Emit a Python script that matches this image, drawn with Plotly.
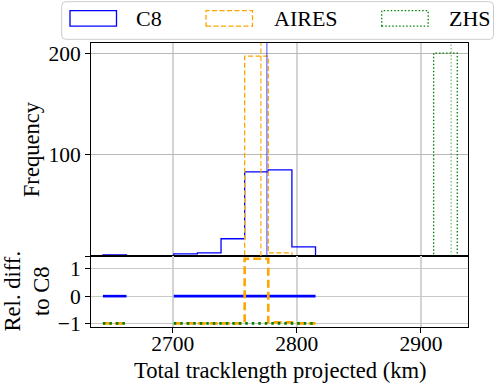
import plotly.graph_objects as go
from plotly.subplots import make_subplots

# ---------------- data ----------------
series_names = ["C8", "AIRES", "ZHS"]
bin_edges = [2643.6, 2662.65, 2681.7, 2700.75, 2719.8, 2738.85, 2757.9, 2776.95,
             2796.0, 2815.05, 2834.1, 2853.15, 2872.2, 2891.25, 2910.3, 2929.35]
counts_c8 = [1, 0, 0, 2, 3, 17, 83, 85, 9, 0, 0, 0, 0, 0, 0]
counts_aires = [0, 0, 0, 0, 0, 0, 197, 3, 0, 0, 0, 0, 0, 0, 0]
counts_zhs = [0, 0, 0, 0, 0, 0, 0, 0, 0, 0, 0, 0, 0, 0, 200]
ref_lines = [2775.8, 2771.0, 2924.4]  # vertical markers (C8, AIRES, ZHS)
x_ticks = [2700, 2800, 2900]
freq_ticks = [0, 100, 200]
freq_ticktext = ["", "100", "200"]
rel_ticks = [-1, 0, 1]
rel_ticktext = ["\u22121", "0", "1"]

# ---------------- styles ----------------
FONT = "Liberation Serif, Times New Roman, serif"
TICK_SIZE = 21.5
LABEL_SIZE = 22.6
colors = ["#0000ff", "#ffa500", "#008000"]
vcolors = ["rgba(0,0,255,0.55)", "rgba(255,165,0,0.85)", "rgba(0,128,0,0.5)"]
dash_top = ["solid", "5px,2.5px", "1.5px,2px"]
dash_bot = ["solid", "8px,4px", "2.5px,4px"]

W, H = 495, 387
ML, MR, MT, MB = 91, 27, 43, 60
PW, PH = W - ML - MR, H - MT - MB


def px2x(px):
    return (px - ML) / PW


def py2y(py):
    return (H - MB - py) / PH


def hist_path(edges, counts):
    xs, ys = [edges[0]], [0]
    for i, c in enumerate(counts):
        xs += [edges[i], edges[i + 1]]
        ys += [c, c]
    xs.append(edges[-1])
    ys.append(0)
    return xs, ys


def stairs(edges, vals):
    xs, ys = [], []
    for i, v in enumerate(vals):
        xs += [edges[i], edges[i + 1]]
        ys += [v, v]
    return xs, ys


all_counts = [counts_c8, counts_aires, counts_zhs]
rel = []
for cnt in all_counts:
    rel.append([(o - c) / c if c > 0 else None for o, c in zip(cnt, counts_c8)])

fig = make_subplots(rows=2, cols=1, shared_xaxes=True, vertical_spacing=0,
                    row_heights=[0.75, 0.25])

for k in range(3):
    xs, ys = hist_path(bin_edges, all_counts[k])
    fig.add_trace(go.Scatter(x=xs, y=ys, mode="lines", name=series_names[k],
                             line=dict(color=colors[k], width=1.3, dash=dash_top[k]),
                             showlegend=False, hoverinfo="skip"), row=1, col=1)
    fig.add_shape(type="line", xref="x", yref="y domain", x0=ref_lines[k], x1=ref_lines[k],
                  y0=0, y1=1, line=dict(color=vcolors[k], width=1.3, dash=dash_top[k]))

for k in range(3):
    xs, ys = stairs(bin_edges, rel[k])
    fig.add_trace(go.Scatter(x=xs, y=ys, mode="lines", name=series_names[k],
                             line=dict(color=colors[k], width=2.6, dash=dash_bot[k]),
                             showlegend=False, hoverinfo="skip", connectgaps=False),
                  row=2, col=1)

axis_common = dict(showline=True, linecolor="black", linewidth=1, mirror=True,
                   zeroline=False, tickfont=dict(family=FONT, size=TICK_SIZE, color="black"),
                   tickcolor="black", ticklen=5, tickwidth=1)

fig.update_xaxes(range=[2634, 2938], tickvals=x_ticks, showgrid=True,
                 gridcolor="#d3d3d3", gridwidth=1.5, **axis_common)
fig.update_xaxes(ticks="", showticklabels=False, row=1, col=1)
fig.update_xaxes(ticks="outside", showticklabels=True, ticklabelstandoff=-8, row=2, col=1)
fig.update_yaxes(range=[0, 210], tickvals=freq_ticks, ticktext=freq_ticktext,
                 ticks="outside", showgrid=True, gridcolor="#b8b8b8", gridwidth=1,
                 row=1, col=1, **axis_common)
fig.update_yaxes(range=[-1.134, 1.475], tickvals=rel_ticks, ticktext=rel_ticktext,
                 ticks="outside", showgrid=True, gridcolor="#c8c8c8", gridwidth=1,
                 row=2, col=1, **axis_common)

annotations = [
    dict(text="Frequency", x=px2x(31.7), y=py2y(149.5), textangle=-90),
    dict(text="Rel. diff.<br>to C8", x=px2x(26), y=py2y(291.5), textangle=-90),
    dict(text="Total tracklength projected (km)", x=px2x(280), y=py2y(370), textangle=0),
]
for a in annotations:
    fig.add_annotation(xref="paper", yref="paper", showarrow=False,
                       xanchor="center", yanchor="middle",
                       font=dict(family=FONT, size=LABEL_SIZE, color="black"), **a)

# ---------------- legend (drawn manually, matplotlib style) ----------------
bx0, bx1, by0, by1, r = 61.7, 493.5, 1.7, 39.3, 4
rx, ry = r / PW, r / PH
X0, X1, Y0, Y1 = px2x(bx0), px2x(bx1), py2y(by1), py2y(by0)
path = (f"M {X0+rx},{Y1} L {X1-rx},{Y1} Q {X1},{Y1} {X1},{Y1-ry} "
        f"L {X1},{Y0+ry} Q {X1},{Y0} {X1-rx},{Y0} L {X0+rx},{Y0} "
        f"Q {X0},{Y0} {X0},{Y0+ry} L {X0},{Y1-ry} Q {X0},{Y1} {X0+rx},{Y1} Z")
fig.add_shape(type="path", xref="paper", yref="paper", path=path,
              fillcolor="rgba(255,255,255,0.8)", line=dict(color="#cccccc", width=1))

handle_x = [70, 206, 381.7]
text_x = [134.3, 271.7, 446.7]
for k in range(3):
    fig.add_shape(type="rect", xref="paper", yref="paper",
                  x0=px2x(handle_x[k]), x1=px2x(handle_x[k] + 46.5),
                  y0=py2y(26.2), y1=py2y(10.7),
                  line=dict(color=colors[k], width=1.3, dash=dash_top[k]),
                  fillcolor="rgba(0,0,0,0)")
    fig.add_annotation(xref="paper", yref="paper", showarrow=False,
                       x=px2x(text_x[k]), y=py2y(18.6), xanchor="left", yanchor="middle",
                       text=series_names[k],
                       font=dict(family=FONT, size=22, color="black"))

fig.update_layout(width=W, height=H, margin=dict(l=ML, r=MR, t=MT, b=MB),
                  plot_bgcolor="white", paper_bgcolor="white", showlegend=False,
                  font=dict(family=FONT, color="black"))

fig.write_html("out.html", config={"displayModeBar": False},
               post_script="document.body.style.margin='0px';document.body.style.overflow='hidden';")
